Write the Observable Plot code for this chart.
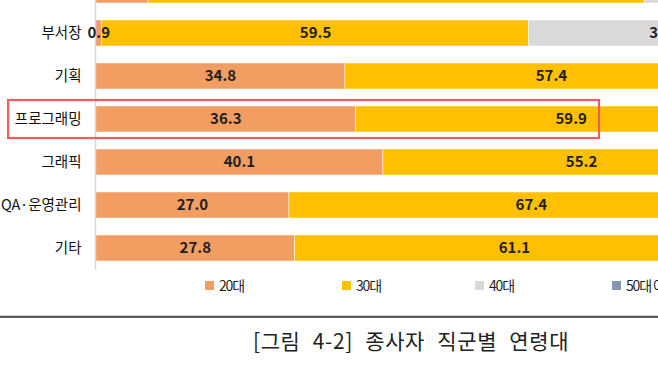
<!DOCTYPE html>
<html>
<head>
<meta charset="utf-8">
<script src="https://cdn.jsdelivr.net/npm/d3@7"></script>
<script src="https://cdn.jsdelivr.net/npm/@observablehq/plot@0.6"></script>
<style>
  html, body { margin: 0; padding: 0; background: #fff; }
  body { width: 658px; height: 370px; overflow: hidden; position: relative; font-family: "Noto Sans CJK KR", "Noto Sans", sans-serif; }
  #chart { position: absolute; left: 0; top: -32px; width: 658px; height: 302px; overflow: hidden; }
  #chart svg { max-width: none !important; width: 900px !important; height: 302px !important; }
  #legend { position: absolute; left: 0; top: 276px; width: 658px; height: 20px; }
  .item { position: absolute; top: 0; display: flex; align-items: center; font-size: 14px; color: #1f1f1f; letter-spacing: -1.2px; white-space: nowrap; line-height: 18px; }
  .sw { width: 9px; height: 9px; margin-right: 5px; display: inline-block; }
  #rule { position: absolute; left: 0; top: 315px; width: 658px; height: 1px; background: #cfcfcf; }
  #rule2 { position: absolute; left: 0; top: 316px; width: 658px; height: 2px; background: #5a5a5a; }
  #caption { position: absolute; left: 253px; top: 324px; font-size: 21px; letter-spacing: 0.6px; word-spacing: 7px; color: #222; white-space: nowrap; line-height: 32px; }
</style>
</head>
<body>
<div id="chart"></div>
<div id="legend"></div>
<div id="rule"></div>
<div id="rule2"></div>
<div id="caption">[그림 4-2] 종사자 직군별 연령대</div>
<script>
const jobs = ["전체", "부서장", "기획", "프로그래밍", "그래픽", "QA·운영관리", "기타"];
const ages = ["20대", "30대", "40대", "50대 이상"];
const v20 = [7.4, 0.9, 34.8, 36.3, 40.1, 27.0, 27.8];
const v30 = [69.1, 59.5, 57.4, 59.9, 55.2, 67.4, 61.1];
const v40 = [20.5, 37.8, 7.0, 3.5, 4.2, 5.1, 9.5];
const v50 = [3.0, 1.8, 0.8, 0.3, 0.5, 0.5, 1.6];
const colors = ["#F29D62", "#FFC000", "#D9D9D9", "#8497B0"];
const highlight = [{job: "프로그래밍", from: -12.1, to: 70.2}];

const series = [v20, v30, v40, v50];
const data = [];
jobs.forEach((job, i) => {
  ages.forEach((age, k) => data.push({job, age, value: series[k][i]}));
});

const chart = Plot.plot({
  width: 900,
  height: 302,
  marginLeft: 95,
  marginRight: 87,
  marginTop: 0,
  marginBottom: 0,
  x: {domain: [0, 100], axis: null},
  y: {domain: jobs, paddingInner: 0.4, paddingOuter: 0.21, axis: null},
  color: {domain: ages, range: colors},
  style: {fontFamily: "'Noto Sans CJK KR', sans-serif", background: "transparent", maxWidth: "none"},
  marks: [
    Plot.barX(data, Plot.stackX({x: "value", y: "job", z: "age", order: ages, fill: "age", stroke: "#fff", strokeWidth: 0.8, strokeOpacity: 0.6})),
    Plot.ruleX([0], {stroke: "#d9d9d9", strokeWidth: 1.5}),
    Plot.text(data, Plot.stackX({x: "value", y: "job", z: "age", order: ages, text: d => d.value.toFixed(1), fill: "#1f1f1f", fontSize: 15, fontWeight: "bold"})),
    Plot.axisY({tickSize: 0, tickPadding: 14, fontSize: 14.5, color: "#111", label: null}),
    Plot.barX(highlight, {x1: "from", x2: "to", y: "job", insetTop: -6, insetBottom: -6, fill: "none", stroke: "#F25A60", strokeWidth: 2.2})
  ]
});
document.getElementById("chart").appendChild(chart);

const legendX = [205, 342, 475, 612];
const legend = document.getElementById("legend");
ages.forEach((age, k) => {
  const item = document.createElement("div");
  item.className = "item";
  item.style.left = legendX[k] + "px";
  const sw = document.createElement("span");
  sw.className = "sw";
  sw.style.background = colors[k];
  item.appendChild(sw);
  item.appendChild(document.createTextNode(age));
  legend.appendChild(item);
});
</script>
</body>
</html>
